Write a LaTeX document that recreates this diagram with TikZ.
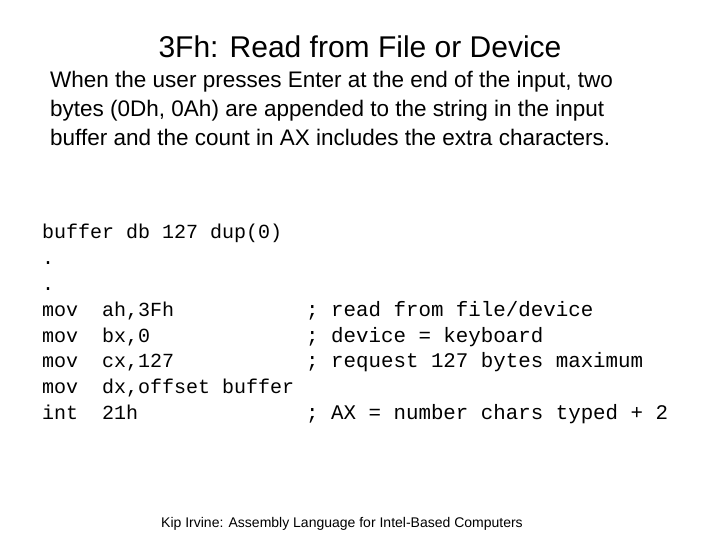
\documentclass[tikz,border=0pt]{standalone}
\usepackage{fontspec}
\setmainfont{Liberation Sans}
\newfontfamily\codefont{Liberation Mono}
\begin{document}
\begin{tikzpicture}[x=1pt,y=-1pt,
  txt/.style={anchor=base west,inner sep=0pt,font=\fontsize{22.5}{26}\selectfont},
  code/.style={anchor=base west,inner sep=0pt,font=\codefont\fontsize{20}{24}\selectfont},
  cmt/.style={anchor=base west,inner sep=0pt,font=\codefont\fontsize{20.8}{24}\selectfont}]
\useasboundingbox[fill=white] (0,0) rectangle (720,540);
\node[anchor=base,inner sep=0pt,font=\fontsize{30}{34}\selectfont] (title) at (360,58) {3Fh: Read from File or Device};
\node[txt] (p1) at (50,88) {When the user presses Enter at the end of the input, two};
\node[txt] (p2) at (50,117) {bytes (0Dh, 0Ah) are appended to the string in the input};
\node[txt] (p3) at (50,146) {buffer and the count in AX includes the extra characters.};
\node[code] (c1) at (42,238) {buffer db 127 dup(0)};
\node[code] (c2) at (42,264) {.};
\node[code] (c3) at (42,290) {.};
\node[code] (c4) at (42,316) {mov~~ah,3Fh};
\node[code] (c5) at (42,342) {mov~~bx,0};
\node[code] (c6) at (42,367) {mov~~cx,127};
\node[code] (c7) at (42,393) {mov~~dx,offset buffer};
\node[code] (c8) at (42,419) {int~~21h};
\node[cmt] (k4) at (306,316) {; read from file/device};
\node[cmt] (k5) at (306,342) {; device = keyboard};
\node[cmt] (k6) at (306,367) {; request 127 bytes maximum};
\node[cmt] (k8) at (306,419) {; AX = number chars typed + 2};
\node[anchor=base,inner sep=0pt,font=\fontsize{14}{16}\selectfont] (foot) at (342,527) {Kip Irvine: Assembly Language for Intel-Based Computers};
\end{tikzpicture}
\end{document}
